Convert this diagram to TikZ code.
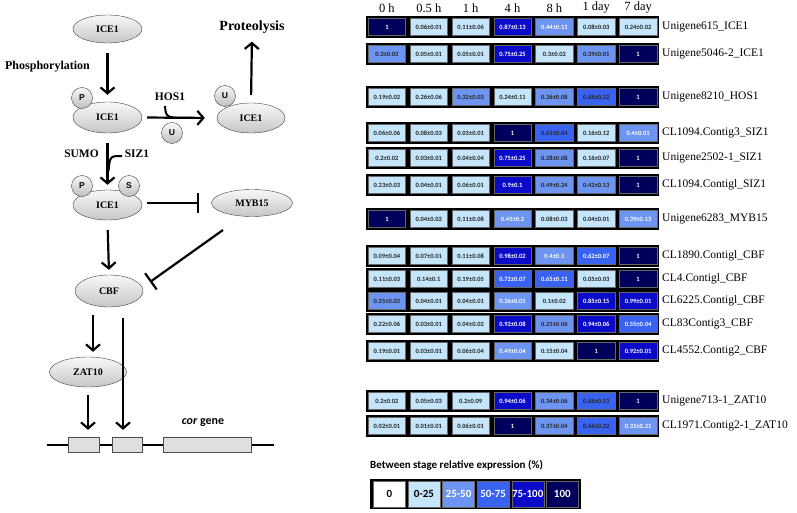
\documentclass[tikz,border=0pt]{standalone}
\usepackage{fontspec}
\setmainfont{Liberation Serif}
\setsansfont{Carlito}
\newfontfamily\arialfont{Liberation Sans}
\usetikzlibrary{arrows.meta,shapes.geometric}

\definecolor{lvlA}{RGB}{196,229,250}
\definecolor{lvlB}{RGB}{108,148,240}
\definecolor{lvlC}{RGB}{58,98,240}
\definecolor{lvlD}{RGB}{10,10,200}
\definecolor{lvlE}{RGB}{0,0,92}

\begin{document}
\begin{tikzpicture}[x=1pt, y=-1pt,
  prot/.style={ellipse, draw=black!75, top color=gray!5, bottom color=gray!45, inner sep=0pt, font=\fontsize{10}{10}\selectfont\bfseries},
  modif/.style={circle, draw=black!75, top color=gray!5, bottom color=gray!50, minimum size=21pt, inner sep=0pt, font=\arialfont\fontsize{8.5}{9}\selectfont\bfseries},
  act/.style={-{Straight Barb[length=6pt,width=14pt]}, line width=2.2pt},
  inhib/.style={-{Bar[width=20pt]}, line width=2.2pt},
  lbl/.style={inner sep=0pt, font=\fontsize{11.5}{12}\selectfont\bfseries},
  gbox/.style={rectangle, draw=black!70, fill=gray!25, minimum height=15pt, inner sep=0pt},
  strip/.style={rectangle, fill=black, minimum width=293pt, minimum height=22pt, inner sep=0pt},
  cell/.style={rectangle, draw=black!60, line width=0.4pt, minimum width=37.5pt, minimum height=17pt, inner sep=0pt, font=\sffamily\bfseries\fontsize{6.5}{7}\selectfont},
  hmA/.style={fill=lvlA, text=black!85},
  hmB/.style={fill=lvlB, text=black!85},
  hmBw/.style={fill=lvlB, text=white},
  hmC/.style={fill=lvlC, text=black!85},
  hmCw/.style={fill=lvlC, text=white},
  hmD/.style={fill=lvlD, text=white},
  hmE/.style={fill=lvlE, text=white},
  hdr/.style={inner sep=0pt, font=\fontsize{12.5}{13}\selectfont},
  gname/.style={inner sep=0pt, anchor=west, font=\fontsize{11.5}{12}\selectfont},
  key/.style={rectangle, draw=black!60, minimum width=32pt, minimum height=26pt, inner sep=0pt, font=\sffamily\bfseries\fontsize{11}{12}\selectfont}]

\useasboundingbox (0,0) rectangle (797,513);

% pathway
\node [prot, minimum width=69pt, minimum height=28pt] (ice) at (107.5,29) {ICE1};
\node [prot, minimum width=69pt, minimum height=31pt] (iceP) at (107.5,117.5) {ICE1};
\node [modif] (pA) at (82,98) {P};
\node [prot, minimum width=68pt, minimum height=30pt] (iceU) at (251,118) {ICE1};
\node [modif] (uA) at (225,96) {U};
\node [modif] (uFree) at (172,133) {U};
\node [prot, minimum width=69pt, minimum height=30pt] (iceS) at (107.5,205) {ICE1};
\node [modif] (pB) at (82,186) {P};
\node [modif] (sB) at (129,186) {S};
\node [prot, minimum width=81pt, minimum height=27pt] (myb) at (252,203) {MYB15};
\node [prot, minimum width=68pt, minimum height=32pt] (cbf) at (109,291) {CBF};
\node [prot, minimum width=77pt, minimum height=30pt] (zat) at (88,372) {ZAT10};

\node [lbl, font=\fontsize{12}{12}\selectfont\bfseries] (phos) at (47.5,67) {Phosphorylation};
\node [lbl, font=\fontsize{14}{14}\selectfont\bfseries] (prot) at (252,27) {Proteolysis};
\node [lbl] (hos) at (170,97) {HOS1};
\node [lbl] (sumo) at (81.5,154) {SUMO};
\node [lbl] (siz) at (137,154) {SIZ1};

\coordinate (hosA) at (165,106);
\coordinate (hosJ) at (192,118);
\coordinate (sizA) at (122,156);
\coordinate (sizJ) at (108.5,171);
\coordinate (mybOut) at (223,230);
\coordinate (cbfBar) at (150,282);

\draw [act, shorten <=10pt, shorten >=7pt] (ice.south) to (iceP.north);
\draw [act, shorten <=5pt, shorten >=12pt] (iceP.east) to (iceU.west);
\draw [line width=2pt] (hosA) .. controls (166,118) .. (hosJ);
\draw [act, shorten <=8pt, shorten >=8pt] (iceU.north) to (prot.south);
\draw [act, shorten <=10pt, shorten >=5pt] (iceP.south) to (iceS.north);
\draw [line width=2pt] (sizA) .. controls (110,156) .. (sizJ);
\draw [inhib, shorten <=5pt, shorten >=12pt] (iceS.east |- myb.west) to (myb.west);
\draw [act, shorten <=10pt, shorten >=5pt] (iceS.south) to (cbf.north);
\draw [inhib] (mybOut) to (cbfBar);
\draw [act, shorten <=8pt, shorten >=5pt] ([xshift=-16pt]cbf.south) to ([xshift=-16pt]cbf.south |- zat.north);

% cor gene
\coordinate (geneL) at (47,444.5);
\coordinate (geneR) at (274,444.5);
\draw [line width=2pt] (geneL) -- (geneR);
\node [gbox, minimum width=31pt] (ex1) at (83.5,444.5) {};
\node [gbox, minimum width=30pt] (ex2) at (127,444.5) {};
\node [gbox, minimum width=88pt] (ex3) at (207,444.5) {};
\node [inner sep=0pt, font=\sffamily\bfseries\fontsize{12}{12}\selectfont] (cor) at (203,423) {\textit{cor} gene};

\draw [act, shorten <=11pt, shorten >=7pt] ([xshift=14pt]cbf.south) to ([xshift=14pt]cbf.south |- ex2.north);
\draw [act, shorten <=8pt, shorten >=7pt] (zat.south) to (zat.south |- ex1.north);

% heat map
\foreach \t [count=\i] in {0 h, 0.5 h, 1 h, 4 h, 8 h, 1 day, 7 day}
  \node [hdr] (h\i) at ({366+41.86*(\i-0.5)},8) {\t};

\foreach \ry/\gn/\cells [count=\r] in {
  27/Unigene615\_ICE1/{1/hmE, 0.06±0.01/hmA, 0.11±0.06/hmA, 0.87±0.13/hmD, 0.44±0.11/hmBw, 0.08±0.03/hmA, 0.24±0.02/hmA},
  54/Unigene5046-2\_ICE1/{0.3±0.03/hmB, 0.05±0.01/hmA, 0.05±0.01/hmA, 0.75±0.25/hmD, 0.3±0.02/hmA, 0.39±0.01/hmB, 1/hmE},
  97/Unigene8210\_HOS1/{0.19±0.02/hmA, 0.26±0.06/hmA, 0.32±0.03/hmB, 0.24±0.11/hmA, 0.36±0.08/hmB, 0.68±0.22/hmC, 1/hmE},
  133/CL1094.Contig3\_SIZ1/{0.06±0.06/hmA, 0.08±0.03/hmA, 0.03±0.01/hmA, 1/hmE, 0.61±0.04/hmC, 0.16±0.12/hmA, 0.4±0.01/hmBw},
  158/Unigene2502-1\_SIZ1/{0.2±0.02/hmA, 0.03±0.01/hmA, 0.04±0.04/hmA, 0.75±0.25/hmD, 0.28±0.08/hmB, 0.16±0.07/hmA, 1/hmE},
  185/CL1094.Contigl\_SIZ1/{0.23±0.03/hmA, 0.04±0.01/hmA, 0.06±0.01/hmA, 0.9±0.1/hmD, 0.49±0.24/hmB, 0.42±0.13/hmB, 1/hmE},
  219/Unigene6283\_MYB15/{1/hmE, 0.04±0.02/hmA, 0.11±0.08/hmA, 0.45±0.2/hmBw, 0.08±0.03/hmA, 0.04±0.01/hmA, 0.39±0.13/hmBw},
  256/CL1890.Contigl\_CBF/{0.09±0.04/hmA, 0.07±0.01/hmA, 0.11±0.08/hmA, 0.98±0.02/hmD, 0.4±0.1/hmBw, 0.62±0.07/hmCw, 1/hmE},
  279/CL4.Contigl\_CBF/{0.11±0.03/hmA, 0.14±0.1/hmA, 0.19±0.05/hmA, 0.72±0.07/hmCw, 0.65±0.11/hmCw, 0.05±0.03/hmA, 1/hmE},
  301/CL6225.Contigl\_CBF/{0.25±0.02/hmB, 0.04±0.01/hmA, 0.04±0.01/hmA, 0.36±0.01/hmBw, 0.1±0.02/hmA, 0.85±0.15/hmD, 0.99±0.01/hmD},
  324/CL83Contig3\_CBF/{0.22±0.06/hmA, 0.03±0.01/hmA, 0.04±0.02/hmA, 0.92±0.08/hmD, 0.25±0.06/hmB, 0.94±0.06/hmD, 0.55±0.04/hmCw},
  351/CL4552.Contig2\_CBF/{0.19±0.01/hmA, 0.03±0.01/hmA, 0.06±0.04/hmA, 0.49±0.04/hmBw, 0.15±0.04/hmA, 1/hmE, 0.92±0.01/hmD},
  401/Unigene713-1\_ZAT10/{0.2±0.02/hmA, 0.05±0.03/hmA, 0.2±0.09/hmA, 0.94±0.06/hmD, 0.34±0.06/hmB, 0.68±0.13/hmC, 1/hmE},
  426/CL1971.Contig2-1\_ZAT10/{0.02±0.01/hmA, 0.01±0.01/hmA, 0.06±0.01/hmA, 1/hmE, 0.37±0.04/hmB, 0.66±0.22/hmC, 0.31±0.21/hmBw}}{
  \node [strip] (row\r) at (512.5,\ry) {};
  \foreach \v/\c [count=\i] in \cells
    \node [cell, \c] (c\r-\i) at ({366+41.86*(\i-0.5)},\ry) {\v};
  \node [gname] (gn\r) at (662,\ry) {\gn};
}

% legend
\node [inner sep=0pt, anchor=west, font=\sffamily\bfseries\fontsize{11}{12}\selectfont] (keyTitle) at (370,465) {Between stage relative expression (\%)};
\node [rectangle, fill=black, minimum width=211pt, minimum height=30pt, inner sep=0pt] (keyRow) at (475.5,494) {};
\foreach \k/\f/\tc [count=\i] in {0/white/black, 0-25/lvlA/black, 25-50/lvlB/white, 50-75/lvlC/white, 75-100/lvlD/white, 100/lvlE/white}
  \node [key, fill=\f, text=\tc] (k\i) at ({372+34.6*(\i-0.5)},494) {\k};

\end{tikzpicture}
\end{document}
